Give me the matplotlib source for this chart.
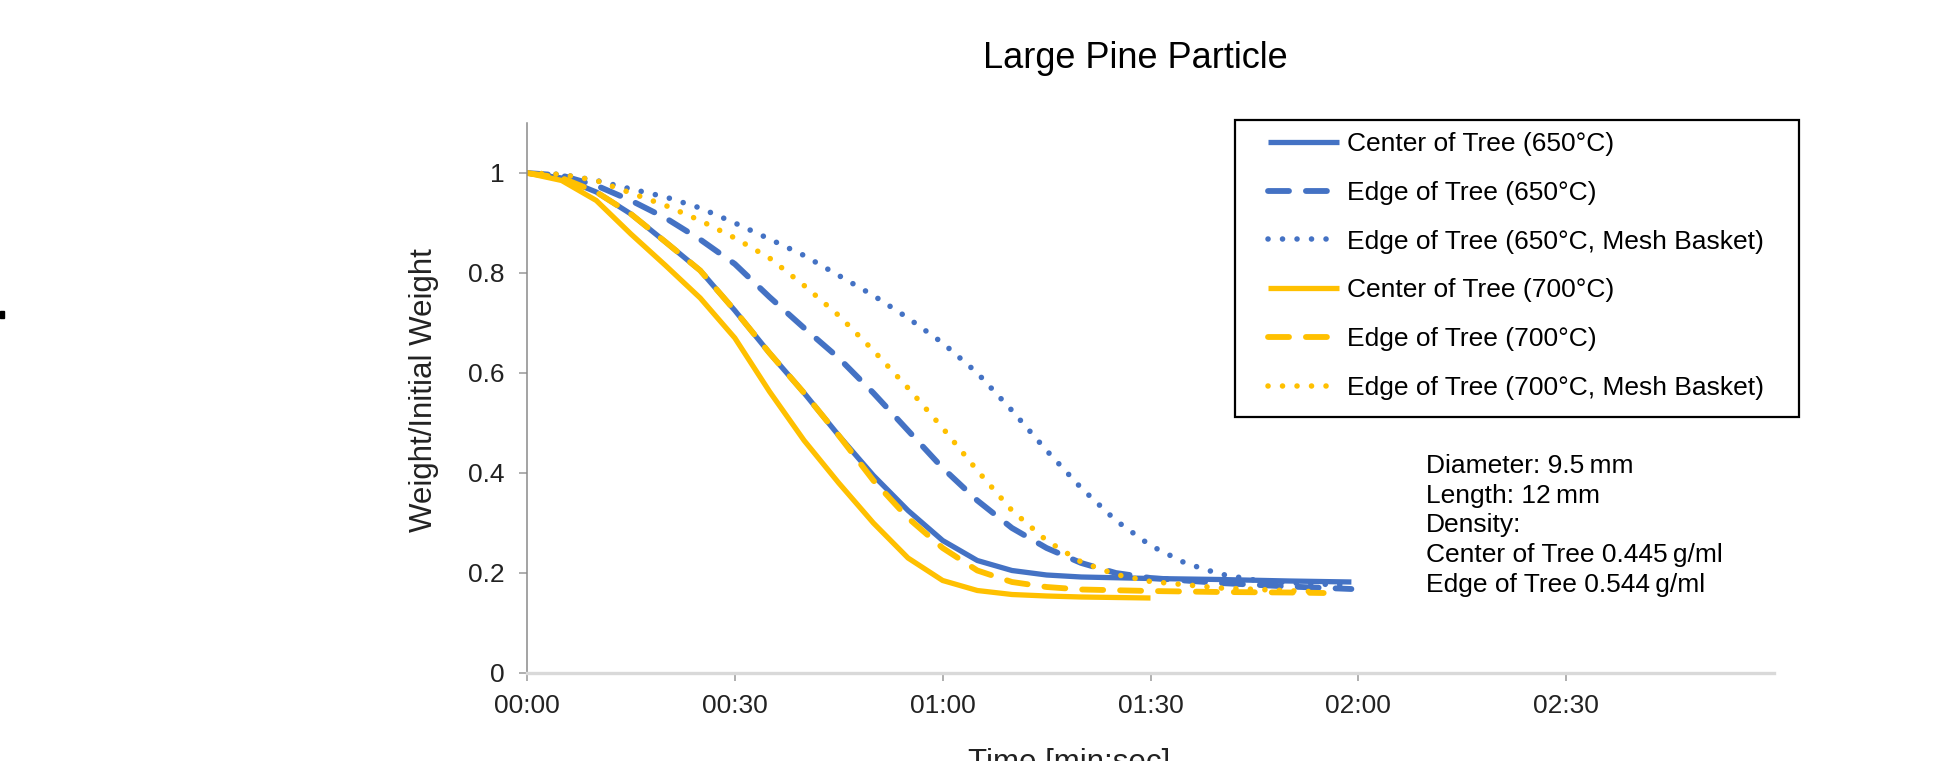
import matplotlib
matplotlib.use("Agg")
import matplotlib.pyplot as plt
from matplotlib.ticker import FuncFormatter
from matplotlib.patches import Rectangle

plt.rcParams['font.family'] = ['Liberation Sans', 'DejaVu Sans']

# time in seconds, weight ratio
t_c650 = [0, 5, 10, 15, 20, 25, 30, 35, 40, 45, 50, 55, 60, 65, 70, 75, 80, 90, 100, 110, 119]
w_c650 = [1, 0.99, 0.962, 0.918, 0.862, 0.805, 0.725, 0.64, 0.56, 0.475, 0.395, 0.325, 0.265,
          0.225, 0.205, 0.196, 0.192, 0.189, 0.187, 0.184, 0.182]

t_e650 = [0, 5, 10, 15, 20, 25, 30, 35, 40, 45, 50, 55, 60, 65, 70, 75, 80, 85, 90, 100, 110, 119]
w_e650 = [1, 0.995, 0.975, 0.945, 0.91, 0.867, 0.818, 0.752, 0.69, 0.63, 0.56, 0.485, 0.41,
          0.345, 0.29, 0.25, 0.22, 0.2, 0.19, 0.18, 0.173, 0.168]

t_m650 = [0, 5, 10, 15, 20, 25, 30, 35, 40, 45, 50, 55, 60, 65, 70, 75, 80, 85, 90, 95, 100,
          105, 110, 118]
w_m650 = [1, 0.997, 0.985, 0.968, 0.952, 0.93, 0.9, 0.868, 0.835, 0.795, 0.755, 0.71, 0.66,
          0.6, 0.525, 0.445, 0.37, 0.305, 0.255, 0.22, 0.198, 0.186, 0.18, 0.176]

t_c700 = [0, 5, 10, 15, 20, 25, 30, 35, 40, 45, 50, 55, 60, 65, 70, 75, 80, 90]
w_c700 = [1, 0.985, 0.945, 0.878, 0.815, 0.75, 0.67, 0.563, 0.465, 0.38, 0.30, 0.23, 0.185,
          0.165, 0.157, 0.154, 0.152, 0.15]

t_e700 = [0, 5, 10, 15, 20, 25, 30, 35, 40, 45, 50, 55, 60, 65, 70, 75, 80, 90, 100, 110, 115]
w_e700 = [1, 0.99, 0.962, 0.918, 0.862, 0.805, 0.725, 0.64, 0.56, 0.475, 0.385, 0.31, 0.25,
          0.205, 0.182, 0.172, 0.167, 0.164, 0.162, 0.161, 0.16]

t_m700 = [0, 5, 10, 15, 20, 25, 30, 35, 40, 45, 50, 55, 60, 65, 70, 75, 80, 85, 90, 100, 113]
w_m700 = [1, 0.997, 0.985, 0.96, 0.935, 0.905, 0.87, 0.83, 0.775, 0.715, 0.645, 0.57, 0.49,
          0.405, 0.325, 0.265, 0.222, 0.197, 0.183, 0.17, 0.163]

labels = ["Center of Tree (650°C)", "Edge of Tree (650°C)", "Edge of Tree (650°C, Mesh Basket)",
          "Center of Tree (700°C)", "Edge of Tree (700°C)", "Edge of Tree (700°C, Mesh Basket)"]

info_lines = ["Diameter: 9.5\u2009mm", "Length: 12\u2009mm", "Density:",
              "Center of Tree 0.445\u2009g/ml", "Edge of Tree 0.544\u2009g/ml"]

blue = "#4472C4"
gold = "#FFC000"
W, H = 1954, 761

fig = plt.figure(figsize=(W / 100, H / 100), dpi=100)
ax = fig.add_axes([527 / W, 1 - 673 / H, (1774 - 527) / W, (673 - 123) / H])

dash = (0, (3.6, 2.9))
dot = (0, (0.01, 2.6))
series = [
    (t_c650, w_c650, blue, "-", 3.8),
    (t_e650, w_e650, blue, dash, 4.2),
    (t_m650, w_m650, blue, dot, 4.0),
    (t_c700, w_c700, gold, "-", 3.8),
    (t_e700, w_e700, gold, dash, 4.2),
    (t_m700, w_m700, gold, dot, 4.0),
]
for (t, w, c, ls, lw), lab in zip(series, labels):
    ax.plot(t, w, color=c, linestyle=ls, lw=lw, label=lab,
            dash_capstyle="round", solid_capstyle="butt", solid_joinstyle="round")

ax.set_xlim(0, 180)
ax.set_ylim(0, 1.1)
ax.set_xticks(range(0, 151, 30))
ax.set_yticks([0, 0.2, 0.4, 0.6, 0.8, 1.0])
ax.xaxis.set_major_formatter(FuncFormatter(lambda v, p: "%02d:%02d" % (int(v) // 60, int(v) % 60)))
ax.yaxis.set_major_formatter(FuncFormatter(lambda v, p: "%g" % round(v, 1)))
ax.tick_params(axis="both", labelsize=19, colors="#222222", length=6, width=1.1)
ax.tick_params(axis="x", pad=9, color="#999999")
ax.tick_params(axis="y", pad=10, color="#999999")

for s in ["top", "right"]:
    ax.spines[s].set_visible(False)
ax.spines["left"].set_color("#8a8a8a")
ax.spines["left"].set_linewidth(1.1)
ax.spines["bottom"].set_color("#d9d9d9")
ax.spines["bottom"].set_linewidth(2.4)

leg = ax.legend(loc="upper left", bbox_to_anchor=(1268 / W, 1 - 132 / H),
                bbox_transform=fig.transFigure, fontsize=19, frameon=False,
                handlelength=2.7, handletextpad=0.3, labelspacing=0.94, borderpad=0,
                borderaxespad=0)
fig.patches.append(Rectangle((1235 / W, 1 - 417 / H), (1799 - 1235) / W, (417 - 120) / H,
                             transform=fig.transFigure, fill=False, edgecolor="black",
                             linewidth=1.6))

fig.text(1135 / W, 1 - 58 / H, "Large Pine Particle", fontsize=26, ha="center", va="center")
fig.text(424 / W, 1 - 390 / H, "Weight/Initial Weight", fontsize=22.5, rotation=90,
         ha="center", va="center", color="#222222")
fig.text(1069 / W, 1 - 748 / H, "Time [min:sec]", fontsize=22.5, ha="center", va="top",
         color="#222222")
fig.text(1426 / W, 1 - 454 / H, "\n".join(info_lines), fontsize=19, ha="left", va="top",
         linespacing=1.3)

fig.patches.append(Rectangle((0, 1 - 318 / H), 4 / W, 7 / H, transform=fig.transFigure,
                             color="black"))

fig.savefig("out.png", dpi=100)
